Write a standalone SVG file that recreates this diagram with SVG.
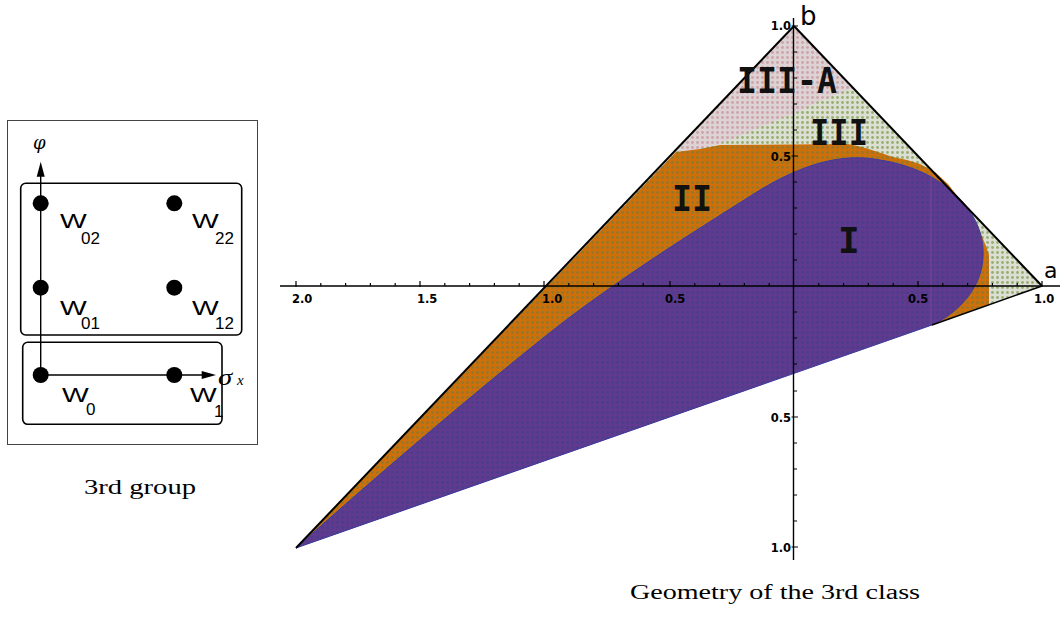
<svg xmlns="http://www.w3.org/2000/svg" width="1060" height="621" viewBox="0 0 1060 621">
<style>
.w{font-family:"Liberation Sans",Arial,sans-serif;font-size:21px;fill:#000}
.ws{font-family:"Liberation Sans",Arial,sans-serif;font-size:17px;fill:#000}
.box{fill:none;stroke:#000;stroke-width:1.6}
.dot{fill:#000}
.ax{stroke:#000;stroke-width:1.4;fill:none}
.tk{stroke:#000;stroke-width:1.2}
.tl{font-family:"DejaVu Sans",sans-serif;font-weight:bold;font-size:11.5px;fill:#000}
.rl{font-family:"DejaVu Sans Mono",monospace;font-weight:bold;font-size:36px;fill:#111}
.cap{font-family:"Liberation Serif","Times New Roman",serif;font-size:20px;fill:#000}
.edge{stroke:#000;stroke-width:2;fill:none}
</style>
<defs>
<pattern id="pPink" width="5" height="5" patternUnits="userSpaceOnUse"><rect width="5" height="5" fill="#ddd3d4"/><circle cx="2.5" cy="2.5" r="1.4" fill="#cfa3aa"/></pattern>
<pattern id="pGreen" width="5" height="5" patternUnits="userSpaceOnUse"><rect width="5" height="5" fill="#dcdfd3"/><circle cx="2.5" cy="2.5" r="1.4" fill="#98ad70"/></pattern>
<pattern id="pOrange" width="5" height="5" patternUnits="userSpaceOnUse"><rect width="5" height="5" fill="#cf6f0a"/><circle cx="2.5" cy="2.5" r="1.4" fill="#93782a"/></pattern>
<pattern id="pPurple" width="5" height="5" patternUnits="userSpaceOnUse"><rect width="5" height="5" fill="#5f3a8e"/><circle cx="2.5" cy="2.5" r="1.4" fill="#4a3d8a"/></pattern>
</defs>
<rect width="1060" height="621" fill="#fff"/>

<g id="left-panel">
<rect x="7.5" y="120.5" width="250" height="324" fill="none" stroke="#444" stroke-width="1"/>
<rect id="box-upper" class="box" x="20.7" y="183.3" width="221" height="151.7" rx="5"/>
<rect id="box-lower" class="box" x="22.7" y="342.3" width="199.3" height="82" rx="5"/>
</g>
<g id="connectors">
<line class="ax" x1="40.7" y1="375" x2="40.7" y2="175"/>
<polygon points="40.7,161.7 36.7,176.7 44.7,176.7" fill="#000"/>
<line class="ax" x1="40.7" y1="375" x2="203" y2="375"/>
<polygon points="216,375 201.7,371 201.7,379" fill="#000"/>
</g>
<g id="axis-labels-left">
<text x="33" y="149" font-family="DejaVu Serif,serif" font-style="italic" font-size="18">φ</text>
<text transform="translate(218,385) scale(1.25,1)" font-family="Liberation Serif,serif" font-style="italic" font-size="23">σ</text>
<text x="237" y="385" font-family="Liberation Serif,serif" font-style="italic" font-size="15">x</text>
</g>
<g id="node-W02"><circle class="dot" cx="40.7" cy="203.3" r="8"/><text class="w" transform="translate(60,228) scale(1.35,1)">W</text><text class="ws" x="81" y="244">02</text></g>
<g id="node-W22"><circle class="dot" cx="174.3" cy="203.3" r="8"/><text class="w" transform="translate(192,228) scale(1.35,1)">W</text><text class="ws" x="215" y="244">22</text></g>
<g id="node-W01"><circle class="dot" cx="40.7" cy="287.7" r="8"/><text class="w" transform="translate(60,315) scale(1.35,1)">W</text><text class="ws" x="81" y="329">01</text></g>
<g id="node-W12"><circle class="dot" cx="174.3" cy="287.7" r="8"/><text class="w" transform="translate(192,315) scale(1.35,1)">W</text><text class="ws" x="215" y="329">12</text></g>
<g id="node-W0"><circle class="dot" cx="40.7" cy="375" r="8"/><text class="w" transform="translate(62,402) scale(1.35,1)">W</text><text class="ws" x="86" y="415">0</text></g>
<g id="node-W1"><circle class="dot" cx="174.3" cy="375" r="8"/><text class="w" transform="translate(190,402) scale(1.35,1)">W</text><text class="ws" x="214" y="417">1</text></g>
<text class="cap" x="84" y="494" textLength="112" lengthAdjust="spacingAndGlyphs">3rd group</text>

<g id="regions">
<path id="region-III" d="M296,548 L794,26 L1042,286 Z" fill="url(#pGreen)"/>
<path id="region-IIIA" d="M676,152 L794,26 L853,88 L835,95 L815,103 L795,113 L775,121 L753,130 L730,140 L712,146 L700,149 Z" fill="url(#pPink)"/>
<path id="region-II" d="M296,548 L676,152 L700,149 L720,145 L848,144 L862,147 L875,151 L893,157 L907,160 L920,164 L935,172 L948,184 L958,197 L976,222 L986,246 L989,255 L989,304.6 Z" fill="url(#pOrange)"/>
<path id="region-I" d="M296,548 L932,325 C960,312 985,285 983,250 C982,212 945,170 880,160 C840,152 800,166 760,190 C700,228 640,265 570,317 C520,355 400,455 296,548 Z" fill="url(#pPurple)" stroke="#3b3aa2" stroke-width="1"/>
<line x1="931" y1="174" x2="931" y2="324" stroke="#8a4f9c" stroke-width="1" opacity="0.6"/>
</g>
<g id="triangle-edges">
<line class="edge" x1="296" y1="548" x2="794" y2="26"/>
<line class="edge" x1="794" y1="26" x2="1042" y2="286"/>
<line x1="932" y1="325" x2="1042" y2="286" stroke="#000" stroke-width="1.6"/>
</g>
<g id="axes">
<line class="ax" x1="280" y1="286" x2="1060" y2="286"/>
<line class="ax" x1="793.5" y1="18" x2="793.5" y2="560"/>
<g class="tk">
<path d="M296,281V287M420,281V287M544,281V287M670,281V287M918,281V287M1042,281V287"/>
<path d="M320.8,283V286M345.6,283V286M370.4,283V286M395.2,283V286M444.8,283V286M469.6,283V286M494.4,283V286M519.2,283V286M568.8,283V286M593.6,283V286M618.4,283V286M643.2,283V286M694.8,283V286M719.6,283V286M744.4,283V286M769.2,283V286M818.8,283V286M843.6,283V286M868.4,283V286M893.2,283V286M942.8,283V286M967.6,283V286M992.4,283V286M1017.2,283V286"/>
<path d="M791.5,26H798M791.5,156H798M791.5,417H798M791.5,547H798"/>
<path d="M793.5,52H797M793.5,78H797M793.5,104H797M793.5,130H797M793.5,182H797M793.5,208H797M793.5,234H797M793.5,260H797M793.5,312H797M793.5,338H797M793.5,364H797M793.5,391H797M793.5,443H797M793.5,469H797M793.5,495H797M793.5,521H797"/>
</g>
<text class="tl" x="292" y="302.5">2.0</text>
<text class="tl" x="417" y="302.5">1.5</text>
<text class="tl" x="542" y="302.5">1.0</text>
<text class="tl" x="665" y="302.5">0.5</text>
<text class="tl" x="908" y="302.5">0.5</text>
<text class="tl" x="1034" y="302.5">1.0</text>
<text class="tl" x="791" y="30" text-anchor="end">1.0</text>
<text class="tl" x="791" y="160.5" text-anchor="end">0.5</text>
<text class="tl" x="791" y="421.5" text-anchor="end">0.5</text>
<text class="tl" x="791" y="551.5" text-anchor="end">1.0</text>
<text x="800" y="25" font-family="DejaVu Sans,sans-serif" font-size="26">b</text>
<text x="1044" y="278" font-family="DejaVu Sans,sans-serif" font-size="22">a</text>
</g>
<g id="region-labels">
<text class="rl" x="737" y="93" textLength="100" lengthAdjust="spacingAndGlyphs">III-A</text>
<text class="rl" x="810" y="145" textLength="58" lengthAdjust="spacingAndGlyphs">III</text>
<text class="rl" x="672" y="211" textLength="40" lengthAdjust="spacingAndGlyphs">II</text>
<text class="rl" x="838" y="253">I</text>
</g>
<text class="cap" x="630" y="599" textLength="290" lengthAdjust="spacingAndGlyphs">Geometry of the 3rd class</text>
</svg>
